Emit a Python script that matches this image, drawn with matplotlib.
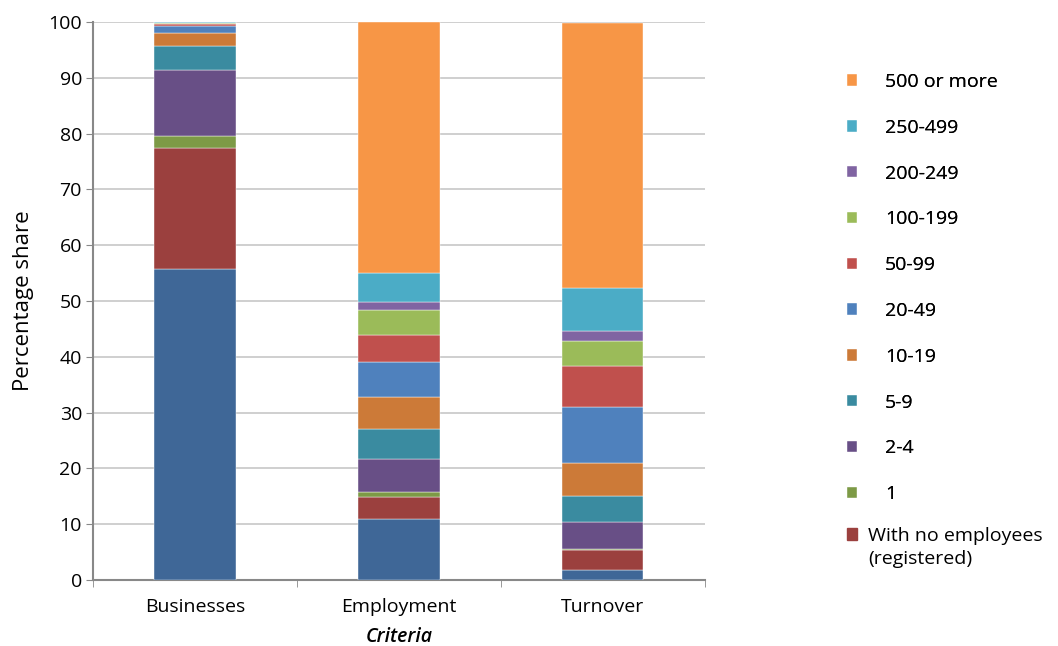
import matplotlib
matplotlib.use("Agg")
import matplotlib.pyplot as plt
import matplotlib.patches as mpatches
from matplotlib.legend_handler import HandlerPatch
import numpy as np

plt.rcParams['font.family'] = ['Open Sans', 'DejaVu Sans']

categories = ["Businesses", "Employment", "Turnover"]

# Size classes (persons employed), bottom to top of each bar
no_employees_unregistered = [55.8, 10.9, 1.8]
no_employees_registered = [21.7, 4.0, 3.6]
size_1 = [2.1, 0.9, 0.2]
size_2_4 = [11.8, 5.9, 4.9]
size_5_9 = [4.35, 5.4, 4.6]
size_10_19 = [2.35, 5.7, 5.8]
size_20_49 = [1.2, 6.3, 10.2]
size_50_99 = [0.35, 4.8, 7.3]
size_100_199 = [0.15, 4.5, 4.4]
size_200_249 = [0.05, 1.5, 1.9]
size_250_499 = [0.1, 5.1, 7.7]
size_500_plus = [0.05, 45.0, 47.4]

series = [
    (no_employees_unregistered, None, "#3F6797"),
    (no_employees_registered, "With no employees\n(registered)", "#9B403E"),
    (size_1, "1", "#7D9A46"),
    (size_2_4, "2-4", "#684F86"),
    (size_5_9, "5-9", "#3A8BA0"),
    (size_10_19, "10-19", "#CC7A38"),
    (size_20_49, "20-49", "#4F81BD"),
    (size_50_99, "50-99", "#C0504D"),
    (size_100_199, "100-199", "#9BBB59"),
    (size_200_249, "200-249", "#8064A2"),
    (size_250_499, "250-499", "#4BACC6"),
    (size_500_plus, "500 or more", "#F79646"),
]

FS = 14

fig = plt.figure(figsize=(10.58, 6.46), dpi=100)
ax = fig.add_axes([0.088, 0.102, 0.578, 0.864])

x = np.arange(len(categories))
bottom = np.zeros(len(categories))
handles, labels = [], []
for values, label, color in series:
    vals = np.array(values)
    bars = ax.bar(x, vals, width=0.4, bottom=bottom, color=color,
                  edgecolor="white", linewidth=0.3, zorder=3)
    bottom += vals
    if label is not None:
        handles.append(bars)
        labels.append(label)

ax.set_xlim(-0.5, 2.5)
ax.set_ylim(0, 100)
ax.set_yticks(np.arange(0, 101, 10))
ax.tick_params(axis='y', labelsize=FS, length=5, color="#888888", pad=3)
ax.set_xticks(x)
ax.set_xticklabels(categories)
ax.tick_params(axis='x', which='major', length=0, labelsize=FS, pad=13)
ax.set_xticks(np.arange(-0.5, 3, 1), minor=True)
ax.tick_params(axis='x', which='minor', length=5, color="#888888")

ax.grid(axis='y', color="#CCCCCC", linewidth=1.3, zorder=0)
for side in ("top", "right"):
    ax.spines[side].set_visible(False)
for side in ("left", "bottom"):
    ax.spines[side].set_color("#888888")
    ax.spines[side].set_linewidth(1.5)

ax.set_ylabel("Percentage share", fontsize=16, labelpad=10)
ax.set_xlabel("Criteria", fontsize=FS, fontstyle="italic", fontweight="semibold", labelpad=8)

# Main legend: size classes from "500 or more" down to "1"
main_handles = handles[1:][::-1]
main_labels = labels[1:][::-1]
leg_main = fig.legend(main_handles, main_labels, loc="upper left",
                      bbox_to_anchor=(0.793, 0.899), frameon=False, fontsize=FS,
                      handlelength=0.52, handleheight=0.52, handletextpad=1.45,
                      labelspacing=1.43, borderaxespad=0)


# Last entry: two-line label, marker level with its first line
def raised_square(legend, orig_handle, xdescent, ydescent, width, height, fontsize):
    return mpatches.Rectangle((-xdescent, -ydescent + 0.7 * fontsize), width, height)


reg_patch = mpatches.Patch(color=series[1][2])
leg_reg = fig.legend([reg_patch], [labels[0]], loc="upper left",
                     bbox_to_anchor=(0.793, 0.1966), frameon=False, fontsize=FS,
                     handlelength=0.52, handleheight=0.52, handletextpad=0.57,
                     borderaxespad=0,
                     handler_map={reg_patch: HandlerPatch(patch_func=raised_square)})
leg_reg.get_texts()[0].set_linespacing(1.37)
fig.add_artist(leg_main)

fig.savefig("out.png", dpi=100)
